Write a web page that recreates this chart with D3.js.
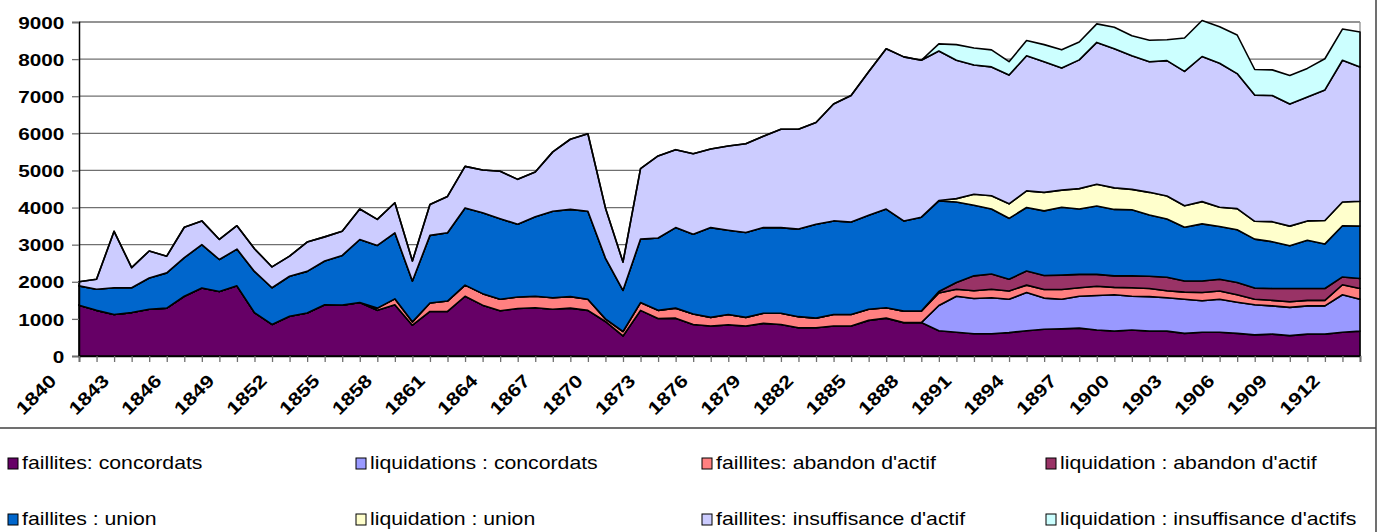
<!DOCTYPE html>
<html>
<head>
<meta charset="utf-8">
<script src="https://cdn.jsdelivr.net/npm/d3@7"></script>
<style>
  body { margin: 0; background: #fff; }
  svg { display: block; font-family: "Liberation Sans", Arial, sans-serif; }
</style>
</head>
<body>
<div id="chart"></div>
<script>
// years 1840..1913, one point per year
const years = d3.range(1840, 1914);
const yTicks = [0, 1000, 2000, 3000, 4000, 5000, 6000, 7000, 8000, 9000];

// series, bottom of the stack first
const faillitesConcordats = [
  1370, 1230, 1120, 1170, 1260, 1290, 1610, 1830, 1740, 1890,
  1170, 850, 1070, 1160, 1380, 1370, 1440, 1230, 1380, 830,
  1200, 1200, 1610, 1370, 1220, 1280, 1300, 1260, 1290, 1230,
  930, 540, 1230, 1010, 1020, 850, 810, 840, 810, 880,
  850, 760, 760, 810, 810, 960, 1020, 900, 900, 680,
  640, 600, 600, 630, 680, 720, 730, 750, 700, 670,
  700, 670, 670, 610, 640, 640, 610, 570, 590, 550,
  590, 590, 640, 670
];
const liquidationsConcordats = [
  0, 0, 0, 0, 0, 0, 0, 0, 0, 0,
  0, 0, 0, 0, 0, 0, 0, 0, 0, 0,
  0, 0, 0, 0, 0, 0, 0, 0, 0, 0,
  0, 0, 0, 0, 0, 0, 0, 0, 0, 0,
  0, 0, 0, 0, 0, 0, 0, 0, 0, 680,
  970, 950, 970, 900, 1030, 840, 800, 860, 930, 980,
  910, 930, 900, 920, 850, 890, 840, 810, 760, 760,
  760, 760, 1010, 860
];
const faillitesAbandon = [
  0, 0, 0, 0, 0, 0, 0, 0, 0, 0,
  0, 0, 0, 0, 0, 0, 0, 60, 160, 90,
  230, 280, 300, 310, 310, 310, 310, 310, 310, 300,
  70, 120, 210, 220, 270, 280, 230, 280, 230, 270,
  300, 300, 260, 310, 310, 300, 280, 310, 310, 340,
  190, 210, 230, 220, 200, 230, 260, 230, 250, 200,
  230, 220, 190, 190, 220, 220, 200, 150, 150, 150,
  150, 150, 270, 290
];
const liquidationAbandon = [
  0, 0, 0, 0, 0, 0, 0, 0, 0, 0,
  0, 0, 0, 0, 0, 0, 0, 0, 0, 0,
  0, 0, 0, 0, 0, 0, 0, 0, 0, 0,
  0, 0, 0, 0, 0, 0, 0, 0, 0, 0,
  0, 0, 0, 0, 0, 0, 0, 0, 0, 40,
  180, 400, 410, 320, 380, 380, 390, 360, 320, 310,
  320, 330, 360, 300, 310, 320, 330, 300, 320, 360,
  320, 320, 210, 270
];
const faillitesUnion = [
  520, 570, 720, 670, 840, 950, 1040, 1170, 860, 990,
  1110, 990, 1080, 1120, 1180, 1340, 1700, 1690, 1780, 1100,
  1820, 1840, 2080, 2180, 2170, 1960, 2140, 2330, 2350, 2370,
  1640, 1110, 1710, 1950, 2170, 2150, 2420, 2270, 2290, 2310,
  2310, 2360, 2530, 2520, 2490, 2530, 2660, 2430, 2530, 2440,
  2170, 1900, 1750, 1640, 1710, 1740, 1830, 1760, 1840, 1790,
  1780, 1650, 1570, 1450, 1540, 1420, 1420, 1320, 1260, 1150,
  1300, 1200, 1380, 1410
];
const liquidationUnion = [
  0, 0, 0, 0, 0, 0, 0, 0, 0, 0,
  0, 0, 0, 0, 0, 0, 0, 0, 0, 0,
  0, 0, 0, 0, 0, 0, 0, 0, 0, 0,
  0, 0, 0, 0, 0, 0, 0, 0, 0, 0,
  0, 0, 0, 0, 0, 0, 0, 0, 0, 10,
  90, 300, 360, 390, 450, 500, 460, 550, 590, 580,
  550, 610, 620, 580, 600, 520, 570, 480, 540, 530,
  520, 630, 640, 670
];
const faillitesInsuffisance = [
  110, 270, 1520, 540, 730, 450, 820, 640, 540, 630,
  610, 560, 540, 790, 650, 650, 820, 700, 810, 540,
  830, 980, 1120, 1150, 1280, 1210, 1210, 1600, 1890, 2090,
  1350, 760, 1900, 2210, 2100, 2170, 2120, 2270, 2390, 2460,
  2650, 2690, 2740, 3150, 3410, 3870, 4320, 4420, 4230, 4030,
  3730, 3480, 3470, 3470, 3640, 3520, 3290, 3470, 3820, 3750,
  3600, 3520, 3650, 3620, 3910, 3880, 3640, 3400, 3400, 3290,
  3340, 3520, 3820, 3620
];
const liquidationInsuffisance = [
  0, 0, 0, 0, 0, 0, 0, 0, 0, 0,
  0, 0, 0, 0, 0, 0, 0, 0, 0, 0,
  0, 0, 0, 0, 0, 0, 0, 0, 0, 0,
  0, 0, 0, 0, 0, 0, 0, 0, 0, 0,
  0, 0, 0, 0, 0, 0, 0, 0, 0, 190,
  420, 460, 460, 360, 410, 460, 490, 480, 500, 580,
  540, 580, 560, 900, 970, 980, 1040, 690, 690, 770,
  770, 840, 840, 940
];

const seriesNames = [
  "faillites: concordats", "liquidations : concordats",
  "faillites: abandon d'actif", "liquidation : abandon d'actif",
  "faillites : union", "liquidation : union",
  "faillites: insuffisance d'actif", "liquidation : insuffisance d'actifs"
];
const seriesValues = [
  faillitesConcordats, liquidationsConcordats,
  faillitesAbandon, liquidationAbandon,
  faillitesUnion, liquidationUnion,
  faillitesInsuffisance, liquidationInsuffisance
];
const seriesColors = ["#660066", "#9999FF", "#FF8080", "#993366",
                      "#0066CC", "#FFFFCC", "#CCCCFF", "#CCFFFF"];

const width = 1382, height = 532;
const svg = d3.select("#chart").append("svg")
    .attr("width", width)
    .attr("height", height);

svg.append("rect").attr("width", width).attr("height", height).attr("fill", "#fff");

const x = d3.scalePoint().domain(years).range([79, 1360]);
const y = d3.scaleLinear().domain([0, 9000]).range([356, 22]);

// rows for d3.stack
const table = years.map((yr, i) => {
    let row = {year: yr};
    seriesNames.forEach((name, k) => { row[name] = seriesValues[k][i]; });
    return row;
});
const stacked = d3.stack().keys(seriesNames)(table);

// gridlines
svg.append("g")
    .selectAll("line")
    .data(yTicks.filter(d => d > 0))
    .enter()
    .append("line")
    .attr("x1", 79).attr("x2", 1360)
    .attr("y1", d => y(d)).attr("y2", d => y(d))
    .attr("stroke", "#707070")
    .attr("stroke-width", 1.3);

// plot area right border
svg.append("line")
    .attr("x1", 1360).attr("x2", 1360)
    .attr("y1", y(9000)).attr("y2", y(0))
    .attr("stroke", "#909090")
    .attr("stroke-width", 1.3);

let area = d3.area()
    .x(d => x(d.data.year))
    .y0(d => y(d[0]))
    .y1(d => y(d[1]));

svg.append("g")
    .selectAll("path")
    .data(stacked)
    .enter()
    .append("path")
    .attr("d", area)
    .attr("fill", (d, i) => seriesColors[i])
    .attr("stroke", "#000")
    .attr("stroke-width", 1.6)
    .attr("stroke-linejoin", "round");

// y axis
let yAxis = svg.append("g")
    .attr("transform", "translate(79,0)")
    .call(d3.axisLeft(y).tickValues(yTicks).tickSize(7).tickPadding(5)
        .tickFormat(d3.format("d")));
yAxis.select(".domain").attr("stroke", "#000").attr("stroke-width", 1.5);
yAxis.selectAll(".tick line").attr("stroke", "#707070").attr("stroke-width", 1.3);
yAxis.selectAll("text")
    .attr("fill", "#000")
    .attr("font-size", 17)
    .attr("font-weight", "bold")
    .attr("font-family", "Liberation Sans, Arial, sans-serif")
    .attr("dy", "0.36em")
    .attr("transform", "scale(1.22,1)");

// x axis
let xAxis = svg.append("g")
    .attr("transform", "translate(0,356)")
    .call(d3.axisBottom(x).tickSize(6)
        .tickFormat(d => (d - 1840) % 3 === 0 ? d : ""));
xAxis.select(".domain").attr("stroke", "#000").attr("stroke-width", 1.5);
xAxis.selectAll(".tick line").attr("stroke", "#707070").attr("stroke-width", 1.3);
xAxis.selectAll("text")
    .attr("fill", "#000")
    .attr("font-size", 18)
    .attr("font-weight", "bold")
    .attr("font-family", "Liberation Sans, Arial, sans-serif")
    .attr("text-anchor", "end")
    .attr("x", 0).attr("y", 0).attr("dy", 0)
    .attr("transform", "translate(-22,26) rotate(-45) scale(1.2,1)");

// chart frame: right side and legend separator
svg.append("line")
    .attr("x1", 1376).attr("x2", 1376).attr("y1", 0).attr("y2", height)
    .attr("stroke", "#404040").attr("stroke-width", 1.5);
svg.append("line")
    .attr("x1", 0).attr("x2", 1376).attr("y1", 428).attr("y2", 428)
    .attr("stroke", "#404040").attr("stroke-width", 1.5);

// legend, 4 columns x 2 rows
const legendCols = [8, 356, 702, 1046];
const legendRows = [463, 519];
let legend = svg.append("g")
    .selectAll("g")
    .data(seriesNames)
    .enter()
    .append("g")
    .attr("transform", (d, i) => "translate(" + legendCols[i % 4] + "," + legendRows[Math.floor(i / 4)] + ")");

legend.append("rect")
    .attr("x", 0).attr("y", -5)
    .attr("width", 10).attr("height", 11)
    .attr("fill", (d, i) => seriesColors[i])
    .attr("stroke", "#000")
    .attr("stroke-width", 1);

legend.append("text")
    .attr("x", 0)
    .attr("y", 0)
    .attr("dy", "0.36em")
    .attr("transform", "translate(14,0) scale(1.18,1)")
    .attr("font-size", 18)
    .attr("fill", "#000")
    .text(d => d);
</script>
</body>
</html>
